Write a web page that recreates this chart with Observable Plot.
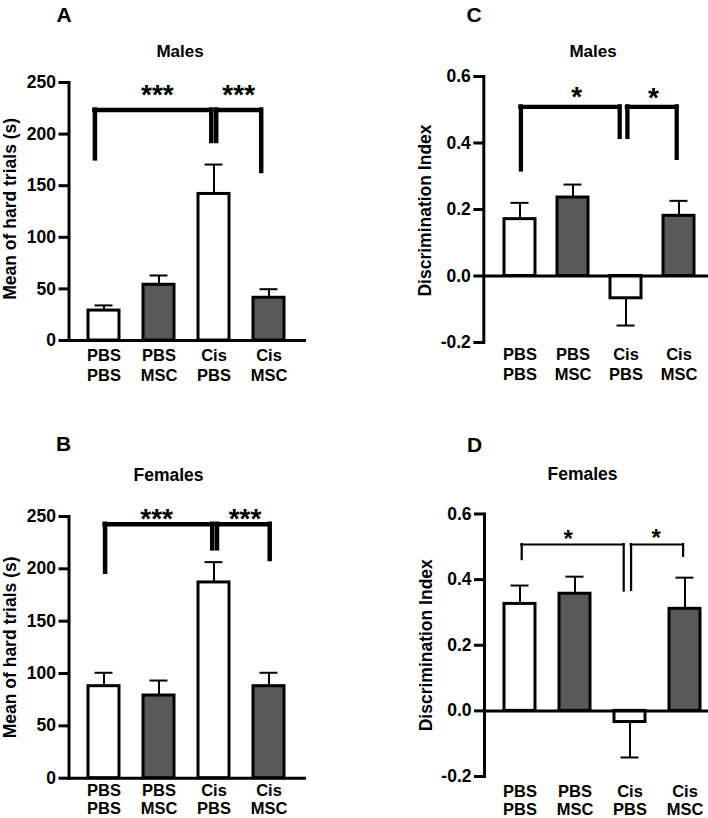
<!DOCTYPE html>
<html><head><meta charset="utf-8">
<script src="https://cdn.jsdelivr.net/npm/d3@7"></script>
<script src="https://cdn.jsdelivr.net/npm/@observablehq/plot@0.6"></script>
<style>
html,body{margin:0;padding:0;background:#fff;}
#root{position:relative;width:708px;height:818px;overflow:hidden;font-family:"Liberation Sans",Arial,sans-serif;font-weight:bold;color:#000;}
.lbl{position:absolute;line-height:1;white-space:nowrap;transform:translate(-50%,-50%);}
.panel{position:absolute;}
.panel svg{overflow:visible;}
.panel svg text{font-weight:bold;}
</style></head>
<body>
<div id="root">
  <div class="lbl" style="left:64px;top:13.5px;font-size:21px">A</div>
  <div class="lbl" style="left:474px;top:13.5px;font-size:21px">C</div>
  <div class="lbl" style="left:63.5px;top:442.5px;font-size:21px">B</div>
  <div class="lbl" style="left:474.5px;top:443.5px;font-size:21px">D</div>
  <div class="lbl" style="left:180px;top:51px;font-size:17px">Males</div>
  <div class="lbl" style="left:593px;top:51px;font-size:17px">Males</div>
  <div class="lbl" style="left:168.5px;top:475.5px;font-size:17.5px">Females</div>
  <div class="lbl" style="left:582.5px;top:475px;font-size:17.5px">Females</div>
</div>
<script>
// ---- categories ----
const groups = ["PBS\nPBS", "PBS\nMSC", "Cis\nPBS", "Cis\nMSC"];
const bracketFrom = ["PBS\nPBS", "Cis\nPBS"];
const bracketTo = ["Cis\nPBS", "Cis\nMSC"];

// ---- A: Males, mean of hard trials (s) ----
const aMean = [29, 54, 142, 41.4];
const aSem = [5, 9, 28.5, 8.3];
const aBracketLeftEnd = [176, 192.8];
const aBracketTop = [223.3, 223.3];
const aBracketRightEnd = [192.8, 163.8];
const aStars = ["***", "***"];
const aStarY = [244.5, 244.5];
const aTicks = [0, 50, 100, 150, 200, 250];

// ---- B: Females, mean of hard trials (s) ----
const bMean = [87.9, 79, 187, 87.9];
const bSem = [12.8, 14.3, 19.4, 12.8];
const bBracketLeftEnd = [196.8, 219.1];
const bBracketTop = [242.6, 242.6];
const bBracketRightEnd = [219.1, 208.9];
const bStars = ["***", "***"];
const bStarY = [253.8, 253.8];
const bTicks = [0, 50, 100, 150, 200, 250];

// ---- C: Males, discrimination index ----
const cMean = [0.171, 0.236, -0.067, 0.181];
const cSem = [0.049, 0.039, 0.082, 0.045];
const cBracketLeftEnd = [0.319, 0.417];
const cBracketTop = [0.5086, 0.5086];
const cBracketRightEnd = [0.417, 0.354];
const cStars = ["*", "*"];
const cStarY = [0.559, 0.557];
const cTicks = [-0.2, 0, 0.2, 0.4, 0.6];

// ---- D: Females, discrimination index ----
const dMean = [0.326, 0.357, -0.034, 0.311];
const dSem = [0.056, 0.052, 0.108, 0.095];
const dBracketLeftEnd = [0.461, 0.367];
const dBracketTop = [0.507, 0.507];
const dBracketRightEnd = [0.365, 0.471];
const dStars = ["*", "*"];
const dStarY = [0.54, 0.544];
const dTicks = [-0.2, 0, 0.2, 0.4, 0.6];

const GRAY = "#595959";

function makePanel(cfg) {
  const data = groups.map((g, i) => ({
    group: g,
    mean: cfg.mean[i],
    end: cfg.mean[i] >= 0 ? cfg.mean[i] + cfg.sem[i] : cfg.mean[i] - cfg.sem[i]
  }));
  const brackets = bracketFrom.map((f, i) => ({
    from: f, to: bracketTo[i],
    y1: cfg.leftEnd[i], top: cfg.top[i], y2: cfg.rightEnd[i],
    star: cfg.stars[i], starY: cfg.starY[i]
  }));
  const bw = d3.scaleBand().domain(groups)
    .range([cfg.ml, cfg.width - cfg.mr])
    .paddingInner(cfg.pi).paddingOuter(cfg.po).align(cfg.align).bandwidth();
  const capInset = (bw - 18) / 2;

  const marks = [
    Plot.ruleX(data, {x: "group", y1: "mean", y2: "end", strokeWidth: 2}),
    Plot.tickY(data, {x: "group", y: "end", strokeWidth: 2, insetLeft: capInset, insetRight: capInset}),
    Plot.barY(data, {x: "group", y: "mean", fill: d => d.group.endsWith("MSC") ? GRAY : "white", stroke: "black", strokeWidth: 3}),
    Plot.ruleY([0], {strokeWidth: 3}),
    Plot.frame({anchor: "left", strokeWidth: 3}),
    Plot.axisY({ticks: cfg.ticks, tickSize: 10, tickPadding: 3, strokeWidth: 3, tickFormat: cfg.fmt, label: null, fontSize: 17.5, fontWeight: "bold"}),
    Plot.axisX({tickSize: 0, tickPadding: cfg.xPad, fontSize: 16.5, fontWeight: "bold", lineHeight: cfg.lh, label: null}),
    Plot.text([cfg.ylabel], {text: d => d, frameAnchor: "left", textAnchor: "middle", dx: -53, dy: cfg.ylabelDy, rotate: -90, lineAnchor: "bottom", fontSize: 17.5, fontWeight: "bold"})
  ];
  brackets.forEach((b, i) => {
    const [oL, oR] = cfg.legOffsets[i];
    const st = {strokeWidth: cfg.bracketWidth, strokeLinecap: "square"};
    marks.push(Plot.ruleX([b], {x: "from", y1: "y1", y2: "top", dx: oL, ...st}));
    marks.push(Plot.ruleX([b], {x: "to", y1: "y2", y2: "top", dx: oR, ...st}));
    marks.push(Plot.ruleY([b], {x1: "from", x2: "to", y: "top", insetLeft: bw / 2 + oL, insetRight: bw / 2 - oR, ...st}));
    marks.push(Plot.text([b], {x: "from", y: "starY", text: "star", dx: cfg.starDx[i], dy: cfg.starDy, fontSize: cfg.starSize, fontWeight: "bold", lineAnchor: "middle"}));
  });

  const svg = Plot.plot({
    width: cfg.width, height: cfg.height,
    marginLeft: cfg.ml, marginRight: cfg.mr, marginTop: cfg.mt, marginBottom: cfg.mb,
    x: {domain: groups, paddingInner: cfg.pi, paddingOuter: cfg.po, align: cfg.align},
    y: {domain: cfg.domain},
    style: {fontFamily: "'Liberation Sans', Arial, sans-serif", fontWeight: "bold", fontSize: "17px", color: "black", background: "transparent"},
    marks
  });
  const wrap = document.createElement("div");
  wrap.className = "panel";
  wrap.style.left = cfg.left + "px";
  wrap.style.top = cfg.topPx + "px";
  wrap.appendChild(svg);
  document.getElementById("root").appendChild(wrap);
}

const fmt1 = d => d.toFixed(1);
const fmt0 = d => String(d);

makePanel({
  left: 0, topPx: 60, width: 306, height: 330, ml: 68.5, mr: 0, mt: 22, mb: 50,
  pi: 0.443, po: 0.35, align: 0.47, domain: [0, 250], ticks: aTicks, fmt: fmt0,
  mean: aMean, sem: aSem, leftEnd: aBracketLeftEnd, top: aBracketTop, rightEnd: aBracketRightEnd,
  stars: aStars, starY: aStarY, legOffsets: [[-9.1, -2.7], [2.2, -7.8]], starDx: [53.4, 24.7],
  starDy: 7, starSize: 28, bracketWidth: 4.5, xPad: 7, lh: 1.17, ylabel: "Mean of hard trials (s)", ylabelDy: -2.7
});
makePanel({
  left: 0, topPx: 494, width: 306, height: 324, ml: 68.5, mr: 0, mt: 22, mb: 40.3,
  pi: 0.443, po: 0.35, align: 0.47, domain: [0, 250], ticks: bTicks, fmt: fmt0,
  mean: bMean, sem: bSem, leftEnd: bBracketLeftEnd, top: bBracketTop, rightEnd: bBracketRightEnd,
  stars: bStars, starY: bStarY, legOffsets: [[1.1, -1.8], [3.0, 0.7]], starDx: [52.6, 31],
  starDy: 7, starSize: 28, bracketWidth: 4.5, xPad: 4.5, lh: 1.1, ylabel: "Mean of hard trials (s)", ylabelDy: 0
});
makePanel({
  left: 354, topPx: 60, width: 354, height: 330, ml: 129.3, mr: 0, mt: 16, mb: 48,
  pi: 0.423, po: 0.3025, align: 0.6, domain: [-0.2, 0.6], ticks: cTicks, fmt: fmt1,
  mean: cMean, sem: cSem, leftEnd: cBracketLeftEnd, top: cBracketTop, rightEnd: cBracketRightEnd,
  stars: cStars, starY: cStarY, legOffsets: [[0.9, -6.3], [1.4, -2.3]], starDx: [56.7, 27.5],
  starDy: 7, starSize: 28, bracketWidth: 4.3, xPad: 4, lh: 1.17, ylabel: "Discrimination Index", ylabelDy: 1
});
makePanel({
  left: 354, topPx: 494, width: 354, height: 324, ml: 130, mr: 0, mt: 19.5, mb: 42,
  pi: 0.4415, po: 0.239, align: 0.72, domain: [-0.2, 0.6], ticks: dTicks, fmt: fmt1,
  mean: dMean, sem: dSem, leftEnd: dBracketLeftEnd, top: dBracketTop, rightEnd: dBracketRightEnd,
  stars: dStars, starY: dStarY, legOffsets: [[1.7, -6.3], [1.1, -1.9]], starDx: [48.1, 26.2],
  starDy: 6, starSize: 24, bracketWidth: 2.2, xPad: 7, lh: 1.12, ylabel: "Discrimination Index", ylabelDy: 0
});
</script>
</body></html>
